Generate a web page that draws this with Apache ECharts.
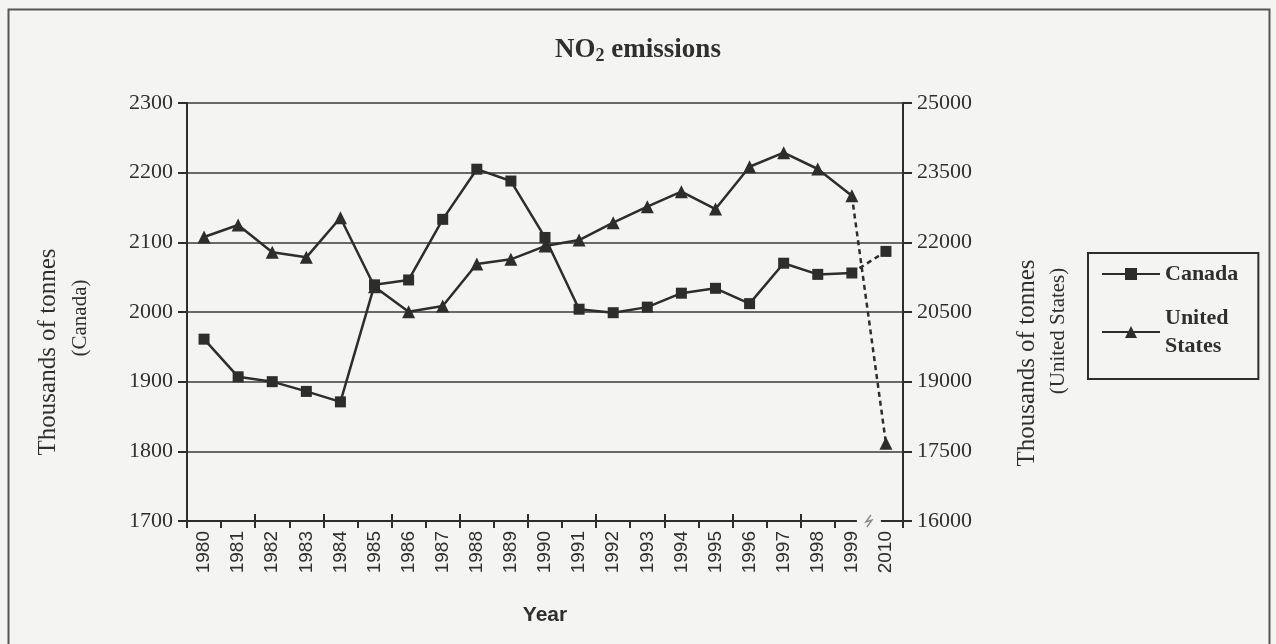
<!DOCTYPE html>
<html>
<head>
<meta charset="utf-8">
<title>NO2 emissions</title>
<script src="https://cdn.jsdelivr.net/npm/echarts@6/dist/echarts.min.js"></script>
<style>
  html, body { margin: 0; padding: 0; background: #f4f4f2; }
  #chart { width: 1276px; height: 644px; }
</style>
</head>
<body>
<div id="chart"></div>
<script>
// Years on the category axis (the last one sits after an axis break)
const years = ['1980', '1981', '1982', '1983', '1984', '1985', '1986', '1987', '1988', '1989',
               '1990', '1991', '1992', '1993', '1994', '1995', '1996', '1997', '1998', '1999', '2010'];

// NO2 emissions, thousands of tonnes
const canada = [1961, 1907, 1900, 1886, 1871, 2039, 2046, 2133, 2205, 2188,
                2107, 2004, 1999, 2007, 2027, 2034, 2012, 2070, 2054, 2056, 2087];
const unitedStates = [22115, 22373, 21785, 21677, 22530, 21045, 20507, 20629, 21533, 21634,
                      21920, 22050, 22423, 22767, 23090, 22717, 23628, 23930, 23579, 23004, 17672];

// Tick values for the two value axes
const canadaTicks = [1700, 1800, 1900, 2000, 2100, 2200, 2300];
const usTicks = [16000, 17500, 19000, 20500, 22000, 23500, 25000];

const INK = '#2d2d2d';
const TEXT = '#2f2f2f';
const BG = '#f4f4f2';
const SERIF = '"Liberation Serif", "Times New Roman", serif';
const SANS = '"Liberation Sans", Arial, sans-serif';

const lastSolid = years.length - 2;   // index of 1999

// Solid part: 1980–1999; dashed part: 1999 → 2010
function solidPart(values) {
  return values.map((v, i) => (i <= lastSolid ? v : '-'));
}
function dashedPart(values) {
  return values.map((v, i) => {
    if (i < lastSolid) return '-';
    if (i === lastSolid) return { value: v, symbol: 'none' };
    return v;
  });
}

const plain = v => String(v);

const chart = echarts.init(document.getElementById('chart'), null, { renderer: 'canvas' });

const lineBase = {
  type: 'line',
  color: INK,
  lineStyle: { color: INK, width: 2.5 },
  itemStyle: { color: INK, borderColor: INK, borderWidth: 0 },
  emphasis: { disabled: true },
  animation: false
};

const option = {
  backgroundColor: BG,
  animation: false,
  title: {
    text: '{a|NO}{b|2}{a| emissions}',
    left: 'center',
    top: 30,
    textStyle: {
      rich: {
        a: { fontFamily: SERIF, fontWeight: 'bold', fontSize: 27, color: TEXT },
        b: { fontFamily: SERIF, fontWeight: 'bold', fontSize: 18, color: TEXT, padding: [12, 0, 0, 0] }
      }
    }
  },
  legend: {
    orient: 'vertical',
    left: 1088,
    top: 253,
    data: [
      { name: 'Canada' },
      { name: 'United States', textStyle: { padding: [28, 0, 0, 0] } }
    ],
    formatter: n => (n === 'United States' ? 'United\nStates' : n),
    itemWidth: 58,
    itemHeight: 15,
    itemGap: 2,
    borderColor: INK,
    borderWidth: 2,
    padding: [7, 20, 5, 13],
    textStyle: { fontFamily: SERIF, fontWeight: 'bold', fontSize: 22, color: TEXT, lineHeight: 28 },
    selectedMode: false
  },
  grid: { left: 187, right: 373, top: 103, bottom: 123 },
  xAxis: [
    {
      type: 'category',
      data: years,
      boundaryGap: true,
      position: 'bottom',
      axisLine: { show: true, lineStyle: { color: INK, width: 2 } },
      axisTick: { show: true, inside: false, length: 7, lineStyle: { color: INK, width: 2 } },
      axisLabel: { rotate: 90, interval: 0, margin: 10, fontFamily: SANS, fontSize: 19, color: TEXT },
      splitLine: { show: false },
      name: 'Year',
      nameLocation: 'middle',
      nameGap: 84,
      nameTextStyle: { fontFamily: SANS, fontWeight: 'bold', fontSize: 21, color: TEXT }
    },
    {
      // inner half of the crossing tick marks
      type: 'category',
      data: years,
      boundaryGap: true,
      position: 'bottom',
      axisLine: { show: false },
      axisTick: { show: true, inside: true, length: 7, lineStyle: { color: INK, width: 2 } },
      axisLabel: { show: false },
      splitLine: { show: false }
    }
  ],
  yAxis: [
    {
      type: 'value',
      position: 'left',
      min: canadaTicks[0],
      max: canadaTicks[canadaTicks.length - 1],
      interval: canadaTicks[1] - canadaTicks[0],
      axisLine: { show: true, lineStyle: { color: INK, width: 2 } },
      axisTick: { show: true, length: 9, lineStyle: { color: INK, width: 2 } },
      axisLabel: { margin: 14, formatter: plain, fontFamily: SERIF, fontSize: 22, color: TEXT },
      splitLine: { show: true, lineStyle: { color: '#3a3a3a', width: 1.6 } }
    },
    {
      type: 'value',
      position: 'right',
      min: usTicks[0],
      max: usTicks[usTicks.length - 1],
      axisLine: { show: true, lineStyle: { color: INK, width: 2 } },
      axisTick: { show: true, length: 9, customValues: usTicks, lineStyle: { color: INK, width: 2 } },
      axisLabel: { margin: 14, customValues: usTicks, formatter: plain, fontFamily: SERIF, fontSize: 22, color: TEXT },
      splitLine: { show: false }
    }
  ],
  series: [
    Object.assign({}, lineBase, {
      name: 'Canada',
      yAxisIndex: 0,
      data: solidPart(canada),
      symbol: 'rect',
      symbolSize: 11,
      z: 3
    }),
    Object.assign({}, lineBase, {
      name: 'United States',
      yAxisIndex: 1,
      data: solidPart(unitedStates),
      symbol: 'triangle',
      symbolSize: 13,
      z: 4
    }),
    Object.assign({}, lineBase, {
      name: 'Canada 2010',
      yAxisIndex: 0,
      data: dashedPart(canada),
      symbol: 'rect',
      symbolSize: 11,
      lineStyle: { color: INK, width: 2.5, type: [5, 4] },
      z: 3
    }),
    Object.assign({}, lineBase, {
      name: 'United States 2010',
      yAxisIndex: 1,
      data: dashedPart(unitedStates),
      symbol: 'triangle',
      symbolSize: 13,
      lineStyle: { color: INK, width: 2.5, type: [5, 4] },
      z: 4
    })
  ]
};

chart.setOption(option);

// Axis break between 1999 and 2010, frame and rotated axis titles
const x1999 = chart.convertToPixel({ xAxisIndex: 0 }, years[lastSolid]);
const x2010 = chart.convertToPixel({ xAxisIndex: 0 }, years[lastSolid + 1]);
const bx = (x1999 + x2010) / 2;
const by = chart.convertToPixel({ yAxisIndex: 0 }, canadaTicks[0]);

function rotatedText(x, y, text, size) {
  return {
    type: 'text',
    x: x,
    y: y,
    rotation: Math.PI / 2,
    z: 50,
    style: {
      text: text,
      fontFamily: SERIF,
      fontSize: size,
      fill: TEXT,
      align: 'center',
      verticalAlign: 'middle',
      textAlign: 'center',
      textVerticalAlign: 'middle'
    }
  };
}

chart.setOption({
  graphic: [
    {
      type: 'rect',
      z: 100,
      shape: { x: bx - 12, y: by - 9, width: 24, height: 18 },
      style: { fill: BG }
    },
    {
      type: 'polyline',
      z: 101,
      shape: { points: [[bx + 2, by - 6], [bx - 3, by + 1], [bx + 3, by - 1], [bx - 2, by + 6]] },
      style: { stroke: '#8a8a8a', lineWidth: 1.4, fill: null }
    },
    {
      type: 'rect',
      z: 0,
      silent: true,
      shape: { x: 8.5, y: 9.5, width: 1261, height: 660 },
      style: { fill: null, stroke: '#555555', lineWidth: 2 }
    },
    rotatedText(48, 352, 'Thousands of tonnes', 25),
    rotatedText(80, 318, '(Canada)', 21),
    rotatedText(1027, 363, 'Thousands of tonnes', 25),
    rotatedText(1058, 331, '(United States)', 21)
  ]
});
</script>
</body>
</html>
